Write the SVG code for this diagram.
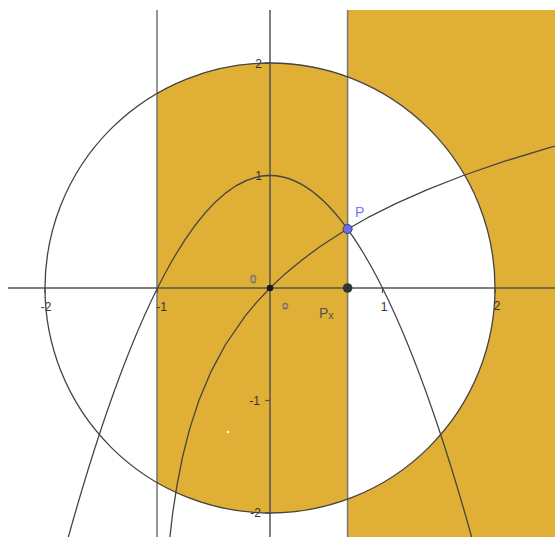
<svg xmlns="http://www.w3.org/2000/svg" width="555" height="537" viewBox="0 0 555 537">
  <style>
    .shade { fill: #E0AF36; stroke: none; }
    .vline { stroke: #7a7a7a; stroke-width: 1.6; fill: none; }
    .axis { stroke: #555; stroke-width: 1.5; fill: none; }
    .tick { stroke: #555; stroke-width: 1.2; }
    .curve { stroke: #444; stroke-width: 1.3; fill: none; stroke-linejoin: round; }
    .lbl { font-family: "Liberation Sans", Arial, sans-serif; font-size: 12px; fill: #333; }
    .zero { font-family: "Liberation Sans", Arial, sans-serif; font-size: 11px; fill: #fff; stroke: #555; stroke-width: 0.6; }
  </style>
  <defs>
    <clipPath id="plot"><rect x="8" y="10" width="547" height="527"/></clipPath>
  </defs>
  <rect width="555" height="537" fill="#fff"/>
  <g id="shading">
    <path class="shade" d="M157,93.1 A225,225 0 0 1 347.6,76.8 L347.6,499.2 A225,225 0 0 1 157,482.9 Z"/>
    <path class="shade" d="M347.6,10 H555 V537 H347.6 V499.2 A225,225 0 0 0 347.6,76.8 Z"/>
    <circle cx="228" cy="432" r="1.2" fill="#fff"/>
  </g>
  <g id="axes">
    <line class="vline" x1="157" y1="10" x2="157" y2="537"/>
    <line class="vline" x1="347.6" y1="10" x2="347.6" y2="537"/>
    <line class="axis" x1="8" y1="288" x2="555" y2="288"/>
    <line class="axis" x1="270" y1="10" x2="270" y2="537"/>
    <g class="tick">
      <line x1="45" y1="288" x2="45" y2="293"/>
      <line x1="157.5" y1="288" x2="157.5" y2="293"/>
      <line x1="382.5" y1="288" x2="382.5" y2="293"/>
      <line x1="495" y1="288" x2="495" y2="293"/>
      <line x1="265" y1="63" x2="270" y2="63"/>
      <line x1="265" y1="175.5" x2="270" y2="175.5"/>
      <line x1="265" y1="400.5" x2="270" y2="400.5"/>
      <line x1="265" y1="513" x2="270" y2="513"/>
    </g>
    <text class="lbl" x="46" y="311" text-anchor="middle">-2</text>
    <text class="lbl" x="167" y="311" text-anchor="end">-1</text>
    <text class="lbl" x="384" y="311" text-anchor="middle">1</text>
    <text class="lbl" x="497" y="310" text-anchor="middle">2</text>
    <text class="lbl" x="262" y="68" text-anchor="end">2</text>
    <text class="lbl" x="262" y="180" text-anchor="end">1</text>
    <text class="lbl" x="260" y="405" text-anchor="end">-1</text>
    <text class="lbl" x="261" y="517" text-anchor="end">-2</text>
    <text class="zero" x="253" y="283" text-anchor="middle">0</text>
    <text class="zero" x="285" y="309" text-anchor="middle">o</text>
  </g>
  <g id="connectors" clip-path="url(#plot)">
    <circle class="curve" cx="270" cy="288" r="225"/>
    <path class="curve" d="M61.9,560.5 Q270,-209.5 478.1,560.5"/>
    <polyline class="curve" points="168.8,546.75 172.7,513 177.05,484.9 182.6,456.75 189.73,428.6 198.9,400.5 210.6,372.4 225.7,344.25 245.1,316.1 256.78,302.1 270,288 284.97,273.9 302,259.9 321.19,245.8 343,231.75 367.67,217.7 395.7,203.6 427.38,189.56 463.3,175.5 504.02,161.44 550.2,147.4 570.3,141.75"/>
  </g>
  <g id="node-O">
    <circle cx="270" cy="288" r="3.3" fill="#1a1a1a"/>
  </g>
  <g id="node-Px">
    <circle cx="347.6" cy="288" r="4.8" fill="#333"/>
    <text class="lbl" x="319" y="318" fill="#555" style="fill:#555;font-size:14px">P<tspan font-size="11px" dy="1">x</tspan></text>
  </g>
  <g id="node-P">
    <circle cx="347.6" cy="229" r="4.6" fill="#6b6bf5" stroke="#333" stroke-width="0.8"/>
    <text class="lbl" x="355" y="217" style="fill:#7575ff;font-size:14px">P</text>
  </g>
</svg>
